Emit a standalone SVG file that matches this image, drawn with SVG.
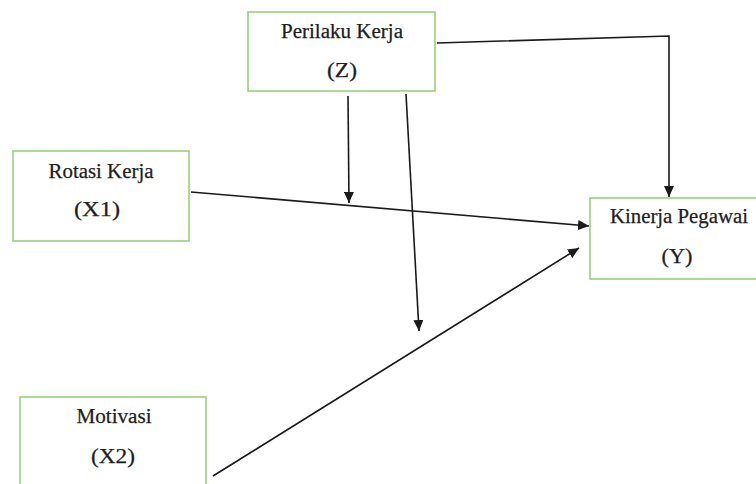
<svg xmlns="http://www.w3.org/2000/svg" width="756" height="484" viewBox="0 0 756 484">
<defs>
<style>
.box{fill:#fff;stroke:#9ccf7c;stroke-width:1.6}
.t{font-family:"Liberation Serif","Times New Roman",serif;font-size:20px;fill:#1e1e1e;stroke:#1e1e1e;stroke-width:0.25;text-anchor:middle}
.c{fill:none;stroke:#1a1a1a;stroke-width:1.6}
</style>
<marker id="ah" markerUnits="userSpaceOnUse" markerWidth="12" markerHeight="10" refX="11" refY="5" orient="auto">
<path d="M0,0 L11,5 L0,10 z" fill="#1a1a1a"/>
</marker>
</defs>
<rect width="756" height="484" fill="#fff"/>
<g id="node-z">
<rect class="box" x="248" y="12" width="187" height="79"/>
<text class="t" x="342" y="38" textLength="122" lengthAdjust="spacingAndGlyphs">Perilaku Kerja</text>
<text class="t" x="342" y="77" textLength="30" lengthAdjust="spacingAndGlyphs">(Z)</text>
</g>
<g id="node-x1">
<rect class="box" x="13" y="151" width="176" height="90"/>
<text class="t" x="101" y="178" textLength="105" lengthAdjust="spacingAndGlyphs">Rotasi Kerja</text>
<text class="t" x="97" y="216" textLength="46" lengthAdjust="spacingAndGlyphs">(X1)</text>
</g>
<g id="node-y">
<rect class="box" x="590" y="198" width="170" height="81"/>
<text class="t" x="679" y="223" textLength="138" lengthAdjust="spacingAndGlyphs">Kinerja Pegawai</text>
<text class="t" x="677" y="263" textLength="31" lengthAdjust="spacingAndGlyphs">(Y)</text>
</g>
<g id="node-x2">
<rect class="box" x="20" y="397" width="186" height="100"/>
<text class="t" x="114" y="423" textLength="75" lengthAdjust="spacingAndGlyphs">Motivasi</text>
<text class="t" x="113" y="463" textLength="44" lengthAdjust="spacingAndGlyphs">(X2)</text>
</g>
<g id="connectors">
<line class="c" x1="191" y1="192" x2="589" y2="226" marker-end="url(#ah)"/>
<line class="c" x1="213" y1="476" x2="579" y2="248" marker-end="url(#ah)"/>
<polyline class="c" points="437,43 669,36 669,197" marker-end="url(#ah)"/>
<line class="c" x1="348" y1="96" x2="349" y2="203" marker-end="url(#ah)"/>
<line class="c" x1="406" y1="94" x2="419" y2="331" marker-end="url(#ah)"/>
</g>
</svg>
